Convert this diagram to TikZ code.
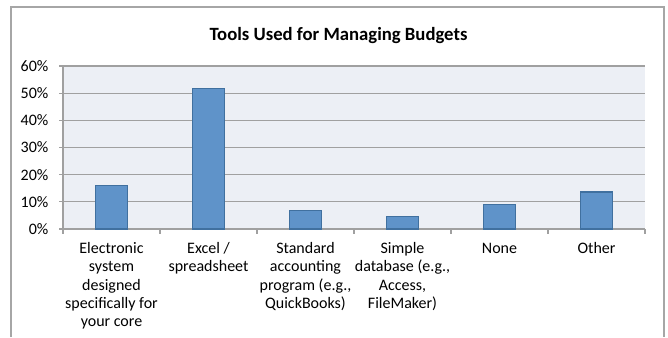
\documentclass[tikz,border=0pt]{standalone}
\usepackage{fontspec}
\setmainfont{Carlito}
\definecolor{framegray}{HTML}{A6A6A6}
\definecolor{gridgray}{HTML}{A0A0A0}
\definecolor{plotbg}{HTML}{ECEFF5}
\definecolor{barfill}{HTML}{5F93C9}
\definecolor{barline}{HTML}{40709F}
\tikzset{
  bar/.style={fill=barfill, draw=barline, line width=1.2pt},
  gridln/.style={draw=gridgray, line width=1.3pt},
  ticklbl/.style={anchor=east, inner sep=0pt, font=\fontsize{16}{18}\selectfont},
  catlbl/.style={anchor=north, inner sep=0pt, align=center, font=\fontsize{16}{18.3}\selectfont},
  titlelbl/.style={anchor=base, inner sep=0pt, font=\fontsize{18.7}{21}\selectfont\bfseries},
}
\begin{document}
\begin{tikzpicture}[x=1pt,y=-1pt]
\useasboundingbox (0,0) rectangle (668,337);
\fill[white] (0,0) rectangle (668,337);
% outer frame
\draw[framegray, line width=2pt] (11,337) -- (11,7) -- (664,7) -- (664,337);
% title
\node[titlelbl] (title) at (338.5,40.5) {Tools Used for Managing Budgets};
% plot area
\fill[plotbg] (63,66) rectangle (645,229);
\foreach \i/\lab in {0/0\%,1/10\%,2/20\%,3/30\%,4/40\%,5/50\%,6/60\%}{
  \pgfmathsetmacro{\yy}{229-27.1667*\i}
  \draw[gridln] (59,\yy) -- (645,\yy);
  \node[ticklbl] (t\i) at (48.5,\yy) {\lab};
}
\draw[gridln] (63,66) -- (63,229);
\foreach \k in {0,...,6}{
  \pgfmathsetmacro{\xx}{63+97*\k}
  \draw[gridln] (\xx,229) -- (\xx,233.5);
}
% bars
\foreach \k/\v in {1/15.9,2/51.6,3/6.7,4/4.5,5/9.0,6/13.6}{
  \pgfmathsetmacro{\cx}{63+97*\k-48.5}
  \pgfmathsetmacro{\ty}{229-2.71667*\v}
  \draw[bar] (\cx-16,229) rectangle (\cx+16,\ty);
}
% category labels
\node[catlbl] (c1) at (111.5,240.5) {\strut Electronic\\system\\designed\\specifically for\\your core};
\node[catlbl] (c2) at (208.5,240.5) {\strut Excel /\\spreadsheet};
\node[catlbl] (c3) at (305.5,240.5) {\strut Standard\\accounting\\program (e.g.,\\QuickBooks)};
\node[catlbl] (c4) at (402.5,240.5) {\strut Simple\\database (e.g.,\\Access,\\FileMaker)};
\node[catlbl] (c5) at (499.5,240.5) {\strut None};
\node[catlbl] (c6) at (596.5,240.5) {\strut Other};
\end{tikzpicture}
\end{document}
